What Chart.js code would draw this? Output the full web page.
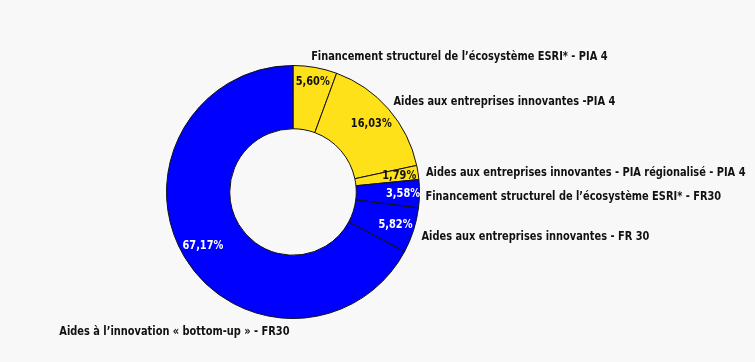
<!DOCTYPE html>
<html>
<head>
<meta charset="utf-8">
<script src="https://cdn.jsdelivr.net/npm/chart.js@4"></script>
<style>
  html, body { margin: 0; padding: 0; background: #f8f8f8; }
  #wrap { width: 755px; height: 362px; }
</style>
</head>
<body>
<div id="wrap"><canvas id="donut" width="755" height="362"></canvas></div>
<script>
const labels = [
  'Financement structurel de l\u2019écosystème ESRI* - PIA 4',
  'Aides aux entreprises innovantes -PIA 4',
  'Aides aux entreprises innovantes - PIA régionalisé - PIA 4',
  'Financement structurel de l\u2019écosystème ESRI* - FR30',
  'Aides aux entreprises innovantes - FR 30',
  'Aides à l\u2019innovation « bottom-up » - FR30'
];
const shares = [5.60, 16.03, 1.79, 3.58, 5.82, 67.17];

const YELLOW = '#ffe119';
const BLUE = '#0000ff';
const sliceColors = [YELLOW, YELLOW, YELLOW, BLUE, BLUE, BLUE];
const pctColors = ['#111', '#111', '#111', '#fff', '#fff', '#fff'];

// where each outside label sits, relative to the outer middle point of its slice
const labelOffsets = [
  { dx: -4, dy: -11, align: 'left' },
  { dx: 5, dy: -7, align: 'left' },
  { dx: 8, dy: 0, align: 'left' },
  { dx: 6, dy: 3, align: 'left' },
  { dx: 8, dy: 6, align: 'left' },
  { dx: 105, dy: 75, align: 'right' }
];
// how far into the ring each percentage sits (0 = inner edge, 1 = outer edge)
const pctDepth = [0.78, 0.64, 0.7, 0.74, 0.7, 0.66];

const FONT = 'bold 13px "DejaVu Sans Condensed", "DejaVu Sans", sans-serif';
const SQUEEZE = 0.84; // the original face is narrower than DejaVu

function fmtPct(v) {
  return v.toFixed(2).replace('.', ',') + '%';
}

function narrowText(ctx, text, x, y, align) {
  ctx.save();
  ctx.translate(x, y);
  ctx.scale(SQUEEZE, 1);
  ctx.textAlign = align;
  ctx.fillText(text, 0, 0);
  ctx.restore();
}

const sliceLabels = {
  id: 'sliceLabels',
  afterDatasetsDraw(chart) {
    const ctx = chart.ctx;
    const meta = chart.getDatasetMeta(0);
    ctx.save();
    ctx.font = FONT;
    ctx.textBaseline = 'middle';
    meta.data.forEach((arc, i) => {
      const p = arc.getProps(['x', 'y', 'startAngle', 'endAngle', 'innerRadius', 'outerRadius'], true);
      const mid = (p.startAngle + p.endAngle) / 2;
      // value inside the ring
      const r = p.innerRadius + (p.outerRadius - p.innerRadius) * pctDepth[i];
      ctx.fillStyle = pctColors[i];
      narrowText(ctx, fmtPct(shares[i]), p.x + Math.cos(mid) * r, p.y + Math.sin(mid) * r, 'center');

      // category name outside
      const ox = p.x + Math.cos(mid) * p.outerRadius;
      const oy = p.y + Math.sin(mid) * p.outerRadius;
      const off = labelOffsets[i];
      ctx.fillStyle = '#111';
      narrowText(ctx, labels[i], ox + off.dx, oy + off.dy, off.align);
    });
    ctx.restore();
  }
};

new Chart(document.getElementById('donut'), {
  type: 'doughnut',
  data: {
    labels: labels,
    datasets: [{
      data: shares,
      backgroundColor: sliceColors,
      borderColor: '#111',
      borderWidth: 1
    }]
  },
  options: {
    responsive: false,
    animation: false,
    cutout: '50%',
    layout: { padding: { left: 166, right: 335, top: 65, bottom: 43 } },
    plugins: {
      legend: { display: false },
      tooltip: { enabled: false }
    }
  },
  plugins: [sliceLabels]
});
</script>
</body>
</html>
